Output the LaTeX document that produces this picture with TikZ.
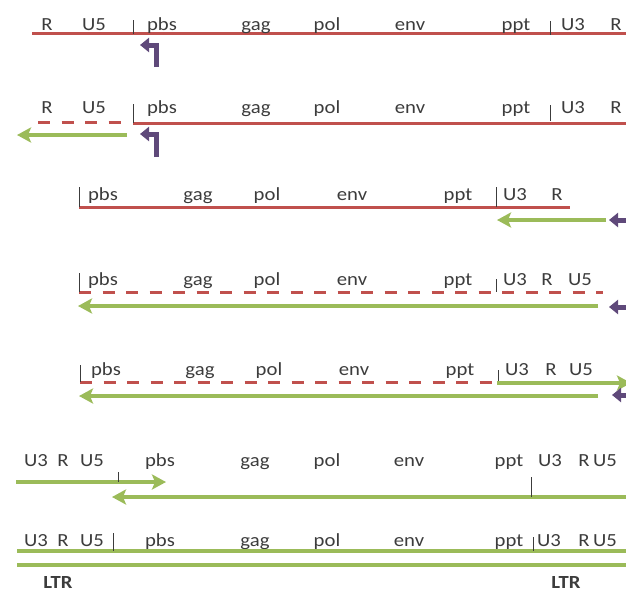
\documentclass[tikz,border=0pt]{standalone}
\usepackage{fontspec}
\setmainfont[FakeStretch=1.12]{Carlito}
\usetikzlibrary{arrows.meta}

\definecolor{rnared}{HTML}{C0504D}
\definecolor{dnagreen}{HTML}{9BBB59}
\definecolor{primerpurple}{HTML}{5F497A}
\definecolor{labelgray}{HTML}{3C3C3C}

\tikzset{
  lab/.style={anchor=base, inner sep=0pt, text=labelgray, font=\fontsize{18.5}{20}\selectfont},
  ltrlab/.style={lab, font=\fontsize{18.5}{20}\selectfont\bfseries},
  rna/.style={draw=rnared, line width=3pt},
  rnagone/.style={rna, dash pattern=on 12pt off 11.5pt},
  dna/.style={draw=dnagreen, line width=4pt},
  dnaarrow/.style={dna, -{Stealth[length=14pt,width=15pt,inset=3pt]}},
  tickmark/.style={draw=labelgray, line width=1pt},
  primer/.style={draw=primerpurple, line width=5pt,
    -{Triangle[length=9pt,width=14pt]}},
}

\begin{document}
\begin{tikzpicture}[x=1pt, y=-1pt]
\useasboundingbox (0,0) rectangle (626,595);

% ---------- row 1: genomic RNA with tRNA primer ----------
\coordinate (a1) at (32,33);   \coordinate (b1) at (640,33);
\draw[rna] (a1) -- (b1);
\node[lab] (r1R)   at (47,30)  {R};
\node[lab] (r1U5)  at (94,30)  {U5};
\node[lab] (r1pbs) at (162,30) {pbs};
\node[lab] (r1gag) at (256,30) {gag};
\node[lab] (r1pol) at (327,30) {pol};
\node[lab] (r1env) at (410,30) {env};
\node[lab] (r1ppt) at (516,30) {ppt};
\node[lab] (r1U3)  at (573,30) {U3};
\node[lab] (r1R2)  at (616,30) {R};
\draw[tickmark] (133,20) -- (133,34);
\draw[tickmark] (550,21) -- (550,35);
\coordinate (p1a) at (156,67); \coordinate (p1b) at (156,45); \coordinate (p1c) at (140,45);
\draw[primer] (p1a) -- (p1b) -- (p1c);

% ---------- row 2: minus-strand strong-stop DNA ----------
\coordinate (a2) at (38,122);  \coordinate (m2) at (126,122);
\coordinate (c2) at (133,123); \coordinate (b2) at (640,123);
\draw[rnagone] (a2) -- (m2);
\draw[rna] (c2) -- (b2);
\node[lab] (r2R)   at (47,113)  {R};
\node[lab] (r2U5)  at (94,113)  {U5};
\node[lab] (r2pbs) at (162,113) {pbs};
\node[lab] (r2gag) at (256,113) {gag};
\node[lab] (r2pol) at (327,113) {pol};
\node[lab] (r2env) at (410,113) {env};
\node[lab] (r2ppt) at (516,113) {ppt};
\node[lab] (r2U3)  at (573,113) {U3};
\node[lab] (r2R2)  at (616,113) {R};
\draw[tickmark] (133,104) -- (133,123);
\draw[tickmark] (550,105) -- (550,121);
\coordinate (g2a) at (127,135); \coordinate (g2b) at (17,135);
\draw[dnaarrow] (g2a) -- (g2b);
\coordinate (p2a) at (156,157); \coordinate (p2b) at (156,134); \coordinate (p2c) at (140,134);
\draw[primer] (p2a) -- (p2b) -- (p2c);

% ---------- row 3: first strand transfer ----------
\coordinate (a3) at (79,207); \coordinate (b3) at (570,207);
\draw[rna] (a3) -- (b3);
\node[lab] (r3pbs) at (103,200) {pbs};
\node[lab] (r3gag) at (198,200) {gag};
\node[lab] (r3pol) at (267,200) {pol};
\node[lab] (r3env) at (352,200) {env};
\node[lab] (r3ppt) at (458,200) {ppt};
\node[lab] (r3U3)  at (515,200) {U3};
\node[lab] (r3R)   at (557,200) {R};
\draw[tickmark] (79,187) -- (79,207);
\draw[tickmark] (496,187) -- (496,207);
\coordinate (g3a) at (606,220); \coordinate (g3b) at (497,220);
\draw[dnaarrow] (g3a) -- (g3b);
\coordinate (p3a) at (628,242); \coordinate (p3b) at (628,220); \coordinate (p3c) at (609,220);
\draw[primer] (p3a) -- (p3b) -- (p3c);

% ---------- row 4: minus-strand synthesis ----------
\coordinate (a4) at (79,292); \coordinate (b4) at (603,292);
\draw[rnagone] (a4) -- (b4);
\node[lab] (r4pbs) at (103,285) {pbs};
\node[lab] (r4gag) at (198,285) {gag};
\node[lab] (r4pol) at (267,285) {pol};
\node[lab] (r4env) at (352,285) {env};
\node[lab] (r4ppt) at (458,285) {ppt};
\node[lab] (r4U3)  at (515,285) {U3};
\node[lab] (r4R)   at (547,285) {R};
\node[lab] (r4U5)  at (580,285) {U5};
\draw[tickmark] (79,273) -- (79,292);
\draw[tickmark] (496,279) -- (496,292);
\coordinate (g4a) at (598,306); \coordinate (g4b) at (78,306);
\draw[dnaarrow] (g4a) -- (g4b);
\coordinate (p4a) at (628,327); \coordinate (p4b) at (628,307); \coordinate (p4c) at (609,307);
\draw[primer] (p4a) -- (p4b) -- (p4c);

% ---------- row 5: plus-strand synthesis from the ppt ----------
\coordinate (a5) at (80,382); \coordinate (b5) at (495,382);
\draw[rnagone] (a5) -- (b5);
\node[lab] (r5pbs) at (106,375) {pbs};
\node[lab] (r5gag) at (200,375) {gag};
\node[lab] (r5pol) at (269,375) {pol};
\node[lab] (r5env) at (354,375) {env};
\node[lab] (r5ppt) at (460,375) {ppt};
\node[lab] (r5U3)  at (517,375) {U3};
\node[lab] (r5R)   at (551,375) {R};
\node[lab] (r5U5)  at (581,375) {U5};
\draw[tickmark] (80,365) -- (80,382);
\draw[tickmark] (498,370) -- (498,383);
\coordinate (g5a) at (497,383); \coordinate (g5b) at (631,383);
\draw[dnaarrow] (g5a) -- (g5b);
\coordinate (g5c) at (598,396); \coordinate (g5d) at (79,396);
\draw[dnaarrow] (g5c) -- (g5d);
\coordinate (p5a) at (628,414); \coordinate (p5b) at (628,395); \coordinate (p5c) at (612,395);
\draw[primer] (p5a) -- (p5b) -- (p5c);

% ---------- row 6: second strand transfer ----------
\node[lab] (r6U3)  at (36,466)  {U3};
\node[lab] (r6R)   at (63,466)  {R};
\node[lab] (r6U5)  at (92,466)  {U5};
\node[lab] (r6pbs) at (160,466) {pbs};
\node[lab] (r6gag) at (255,466) {gag};
\node[lab] (r6pol) at (327,466) {pol};
\node[lab] (r6env) at (409,466) {env};
\node[lab] (r6ppt) at (509,466) {ppt};
\node[lab] (r6U32) at (550,466) {U3};
\node[lab] (r6R2)  at (584,466) {R};
\node[lab] (r6U52) at (605,466) {U5};
\coordinate (g6a) at (16,482); \coordinate (g6b) at (166,482);
\draw[dnaarrow] (g6a) -- (g6b);
\coordinate (g6c) at (640,497); \coordinate (g6d) at (112,497);
\draw[dnaarrow] (g6c) -- (g6d);
\draw[tickmark] (118,472) -- (118,482);
\draw[tickmark] (531,477) -- (531,497);

% ---------- row 7: double-stranded provirus ----------
\node[lab] (r7U3)  at (36,546)  {U3};
\node[lab] (r7R)   at (63,546)  {R};
\node[lab] (r7U5)  at (92,546)  {U5};
\node[lab] (r7pbs) at (160,546) {pbs};
\node[lab] (r7gag) at (255,546) {gag};
\node[lab] (r7pol) at (327,546) {pol};
\node[lab] (r7env) at (409,546) {env};
\node[lab] (r7ppt) at (509,546) {ppt};
\node[lab] (r7U32) at (549,546) {U3};
\node[lab] (r7R2)  at (584,546) {R};
\node[lab] (r7U52) at (605,546) {U5};
\coordinate (g7a) at (17,551); \coordinate (g7b) at (640,551);
\coordinate (g7c) at (17,565); \coordinate (g7d) at (640,565);
\draw[dna] (g7a) -- (g7b);
\draw[dna] (g7c) -- (g7d);
\draw[tickmark] (113,533) -- (113,551);
\draw[tickmark] (533,537) -- (533,551);
\node[ltrlab] (ltrL) at (58,588)  {LTR};
\node[ltrlab] (ltrR) at (566,588) {LTR};
\end{tikzpicture}
\end{document}
